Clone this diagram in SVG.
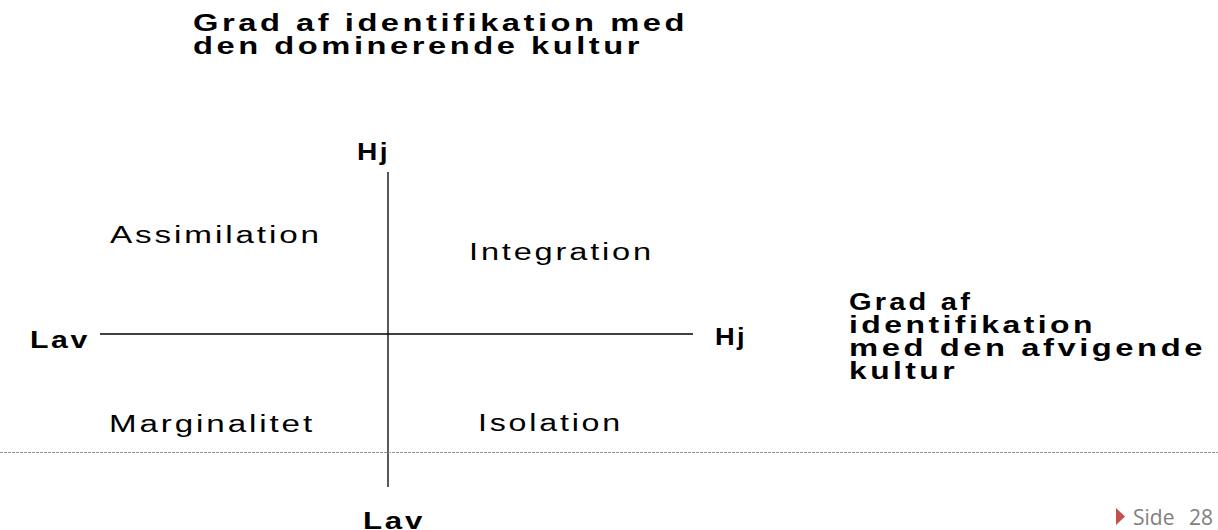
<svg xmlns="http://www.w3.org/2000/svg" width="1218" height="530" viewBox="0 0 1218 530">
  <style>
    text { font-family: "Liberation Sans", Arial, sans-serif; fill: #000; }
    .title { font-size: 23px; font-weight: bold; letter-spacing: 2.5px; }
    .axis { font-size: 23px; font-weight: bold; letter-spacing: 2px; }
    .quad { font-size: 23px; letter-spacing: 2px; }
    .axisline { stroke: #000; stroke-width: 1.3; fill: none; }
    .sep { stroke: #999; stroke-width: 1; stroke-dasharray: 3 1; }
    .footer { font-family: "Open Sans", "Liberation Sans", sans-serif; font-size: 21px; fill: #7f7f7f; }
  </style>
  <rect width="1218" height="530" fill="#fff"/>

  <g id="title-top">
    <text class="title" x="193" y="31" textLength="495" lengthAdjust="spacingAndGlyphs">Grad af identifikation med</text>
    <text class="title" x="193" y="54" textLength="450" lengthAdjust="spacingAndGlyphs">den dominerende kultur</text>
  </g>

  <g id="title-right">
    <text class="title" x="849" y="310" textLength="124" lengthAdjust="spacingAndGlyphs">Grad af</text>
    <text class="title" x="849" y="333" textLength="247" lengthAdjust="spacingAndGlyphs">identifikation</text>
    <text class="title" x="849" y="356" textLength="357" lengthAdjust="spacingAndGlyphs">med den afvigende</text>
    <text class="title" x="849" y="379" textLength="109" lengthAdjust="spacingAndGlyphs">kultur</text>
  </g>

  <g id="connectors">
    <line class="axisline" x1="388" y1="172" x2="388" y2="487"/>
    <line class="axisline" x1="100" y1="334" x2="693" y2="334"/>
    <line class="sep" x1="0" y1="452.5" x2="1218" y2="452.5"/>
  </g>

  <g id="axis-hj-top"><text class="axis" x="357" y="160" textLength="33" lengthAdjust="spacingAndGlyphs">Hj</text></g>
  <g id="axis-lav-left"><text class="axis" x="30" y="348" textLength="60" lengthAdjust="spacingAndGlyphs">Lav</text></g>
  <g id="axis-hj-right"><text class="axis" x="715" y="345" textLength="32" lengthAdjust="spacingAndGlyphs">Hj</text></g>
  <g id="axis-lav-bottom"><text class="axis" x="363" y="529" textLength="62" lengthAdjust="spacingAndGlyphs">Lav</text></g>

  <g id="q-assimilation"><text class="quad" x="110" y="243" textLength="212" lengthAdjust="spacingAndGlyphs">Assimilation</text></g>
  <g id="q-integration"><text class="quad" x="469" y="260" textLength="185" lengthAdjust="spacingAndGlyphs">Integration</text></g>
  <g id="q-marginalitet"><text class="quad" x="109" y="432" textLength="206" lengthAdjust="spacingAndGlyphs">Marginalitet</text></g>
  <g id="q-isolation"><text class="quad" x="478" y="431" textLength="145" lengthAdjust="spacingAndGlyphs">Isolation</text></g>

  <g id="footer">
    <polygon points="1116,508 1125,516.5 1116,525" fill="#c0504d"/>
    <text class="footer" x="1133" y="525">Side</text>
    <text class="footer" x="1189" y="525">28</text>
  </g>
</svg>
